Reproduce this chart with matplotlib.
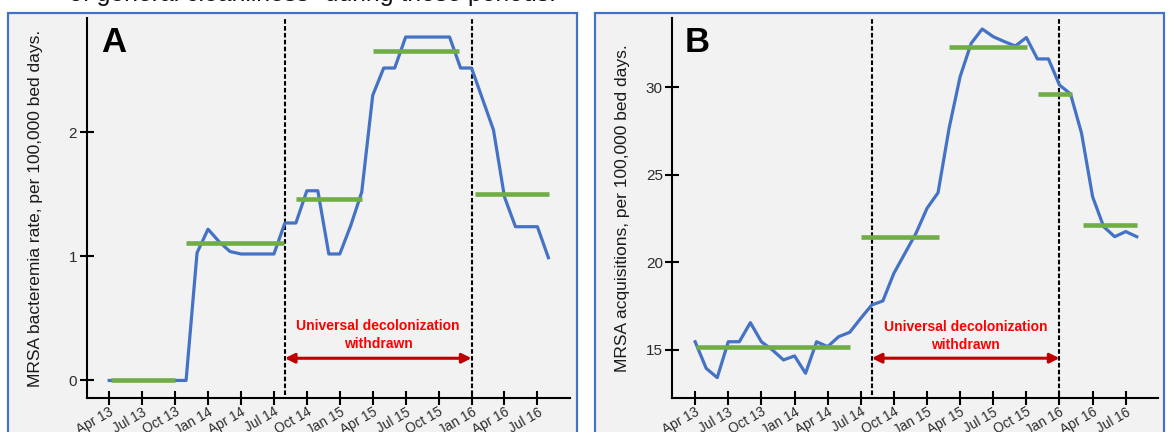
import numpy as np
import matplotlib.pyplot as plt
from matplotlib.patches import Rectangle
from matplotlib import transforms

plt.rcParams['font.family'] = ['Liberation Sans', 'DejaVu Sans']

W, H = 1170, 432

# months counted from Apr 2013
tick_months = list(range(0, 40, 3))
tick_labels = ['Apr 13', 'Jul 13', 'Oct 13', 'Jan 14', 'Apr 14', 'Jul 14', 'Oct 14',
               'Jan 15', 'Apr 15', 'Jul 15', 'Oct 15', 'Jan 16', 'Apr 16', 'Jul 16']

# panel A: MRSA bacteremia rate, Apr 13 .. Aug 16
bact_rate = [0, 0, 0, 0, 0, 0, 0, 0, 1.03, 1.22,
             1.12, 1.04, 1.02, 1.02, 1.02, 1.02, 1.27, 1.27, 1.53, 1.53,
             1.02, 1.02, 1.25, 1.52, 2.30, 2.52, 2.52, 2.77, 2.77, 2.77,
             2.77, 2.77, 2.52, 2.52, 2.27, 2.02, 1.48, 1.24, 1.24, 1.24,
             0.99]
# panel B: MRSA acquisitions, Apr 13 .. Aug 16
acquisitions = [15.47, 13.95, 13.42, 15.47, 15.47, 16.56, 15.47, 15.00, 14.43, 14.66,
                13.67, 15.47, 15.19, 15.76, 16.01, 16.81, 17.57, 17.80, 19.38, 20.52,
                21.66, 23.09, 23.98, 27.66, 30.61, 32.51, 33.33, 32.89, 32.61, 32.36,
                32.84, 31.62, 31.62, 30.13, 29.62, 27.37, 23.75, 22.04, 21.47, 21.76,
                21.47]

# period means (start month, end month, level)
bact_start = [0.2, 7.0, 17.0, 24.0, 33.3]
bact_end = [6.0, 15.9, 23.0, 31.9, 40.1]
bact_mean = [0.0, 1.11, 1.46, 2.655, 1.50]
acq_start = [0.07, 15.0, 23.0, 31.05, 35.1]
acq_end = [14.0, 22.05, 30.05, 34.1, 40.0]
acq_mean = [15.19, 21.47, 32.32, 29.6, 22.12]

withdrawal = [16, 33]  # Aug 14 -> Jan 16

BLUE = '#4472C4'
GREEN = '#70AD47'

fig = plt.figure(figsize=(W / 100, H / 100), dpi=100)

# panel frames
for x0, x1 in [(8.3, 577), (595, 1164)]:
    fig.add_artist(Rectangle((x0 / W, -0.1), (x1 - x0) / W, 0.1 + 1 - 13.3 / H,
                             transform=fig.transFigure, facecolor='#F2F2F2',
                             edgecolor=BLUE, lw=1.6, zorder=0))

fig.text(69 / W, 1 - 1.5 / H, 'of general cleanliness" during these periods.',
         fontsize=17.9, va='baseline', color='#111111')


def panel(left, right, values, starts, ends, means, ylim, yticks, ylabel,
          label_x, letter, letter_x, arrow_y, text_y):
    ax = fig.add_axes([left / W, 1 - 398.3 / H, (right - left) / W, 380 / H])
    ax.patch.set_alpha(0)
    x = np.arange(len(values))
    ax.plot(x, values, color=BLUE, lw=2.3, zorder=3)
    ax.hlines(means, starts, ends, color=GREEN, lw=3.3, zorder=4)
    for m in withdrawal:
        ax.axvline(m, ymin=0.01, ymax=1, color='black', lw=1.5,
                   linestyle=(0, (2.2, 1.1)), zorder=2)
    ax.annotate('', xy=(withdrawal[0], arrow_y), xytext=(withdrawal[1], arrow_y),
                arrowprops=dict(arrowstyle='<|-|>', color='#C00000', lw=2.2,
                                mutation_scale=14, shrinkA=0, shrinkB=0), zorder=5)
    ax.text(sum(withdrawal) / 2, text_y, 'Universal decolonization\nwithdrawn',
            ha='center', va='center', color='#FF0000', fontsize=10,
            fontweight='bold', linespacing=1.35)
    ax.set_xlim(-2.07, 41.95)
    ax.set_ylim(*ylim)
    ax.set_yticks(yticks)
    ax.set_xticks(tick_months)
    ax.set_xticklabels(tick_labels, rotation=30, ha='right', va='top',
                       rotation_mode='anchor')
    off = transforms.ScaledTranslation(6 / 100, 0, fig.dpi_scale_trans)
    for t in ax.get_xticklabels():
        t.set_transform(t.get_transform() + off)
    for s in ['top', 'right']:
        ax.spines[s].set_visible(False)
    for s in ['left', 'bottom']:
        ax.spines[s].set_linewidth(1.5)
    ax.tick_params(direction='inout', length=9.5, width=1.5, colors='black',
                   labelcolor='#2b2b2b', labelsize=11)
    ax.tick_params(axis='x', labelsize=9.8, pad=0)
    ax.tick_params(axis='y', pad=2)
    fig.text(label_x / W, 1 - 208.5 / H, ylabel, rotation=90, ha='center',
             va='center', fontsize=12.5, color='#1a1a1a')
    fig.text(letter_x / W, 1 - 51.7 / H, letter, fontsize=25, fontweight='bold',
             va='baseline', ha='left')
    return ax


panel(86.5, 569.8, bact_rate, bact_start, bact_end, bact_mean,
      (-0.144, 2.921), [0, 1, 2], 'MRSA bacteremia rate, per 100,000 bed days.',
      35.5, 'A', 101, 0.179, 0.365)
panel(672.3, 1158.3, acquisitions, acq_start, acq_end, acq_mean,
      (12.24, 33.94), [15, 20, 25, 30], 'MRSA acquisitions, per 100,000 bed days.',
      623, 'B', 685, 14.53, 15.79)

fig.savefig('out.png', dpi=100)
